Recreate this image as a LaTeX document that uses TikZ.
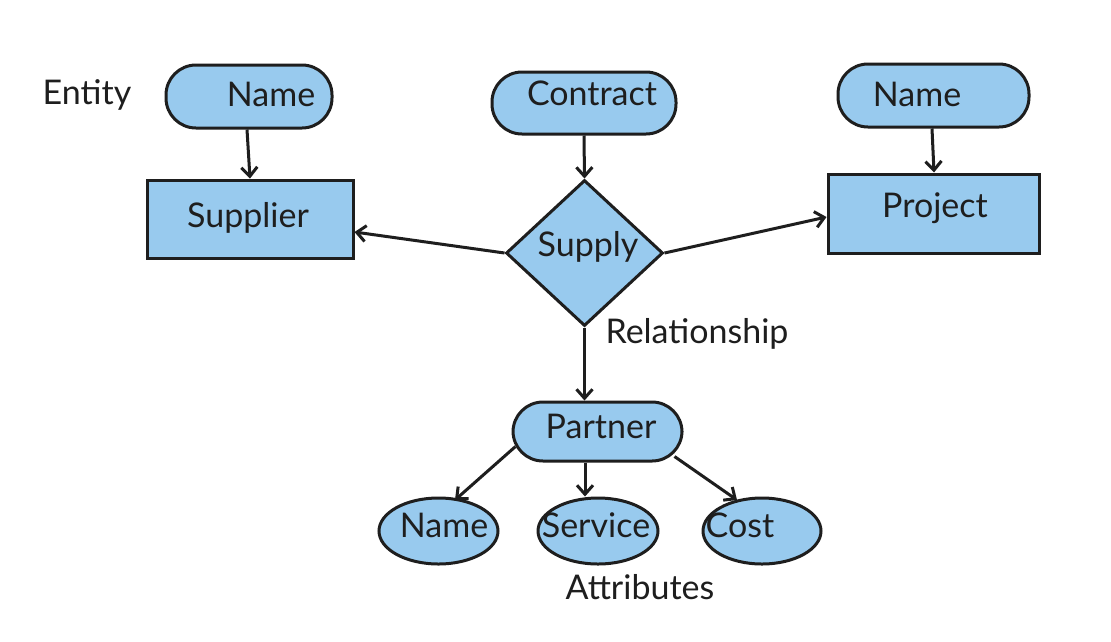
\documentclass[tikz,border=0pt]{standalone}
\usepackage{fontspec}
\setmainfont{Lato}
\usetikzlibrary{shapes.geometric,arrows.meta}
\definecolor{fillblue}{HTML}{98CAEE}
\definecolor{ink}{HTML}{1E1E1E}
\begin{document}
\begin{tikzpicture}[x=1pt,y=-1pt,
  shp/.style={draw=ink,fill=fillblue,line width=3pt,inner sep=0pt},
  pill/.style={shp,rectangle,rounded corners=30pt},
  ent/.style={shp,rectangle},
  rel/.style={shp,diamond},
  attr/.style={shp,ellipse},
  txt/.style={font=\fontsize{34}{38}\selectfont,text=ink,inner sep=0pt},
  conn/.style={draw=ink,line width=3pt,-{Straight Barb[length=9pt,width=16pt,line width=3pt]}}]
\useasboundingbox (0,0) rectangle (1111,641);
\fill[white] (0,0) rectangle (1111,641);
% shapes
\node[pill,minimum width=166pt,minimum height=63pt] (n1) at (249,96.5) {};
\node[ent,minimum width=206pt,minimum height=78pt] (sup) at (250,219) {};
\node[pill,minimum width=184pt,minimum height=62pt] (con) at (584,103) {};
\node[rel,minimum width=157pt,minimum height=146pt] (rel) at (584.5,253) {};
\node[pill,minimum width=191pt,minimum height=63pt] (n2) at (933.5,95.5) {};
\node[ent,minimum width=211pt,minimum height=79pt] (prj) at (933.5,213.5) {};
\node[pill,minimum width=169pt,minimum height=59pt] (par) at (597.5,431.5) {};
\node[attr,minimum width=119pt,minimum height=66pt] (n3) at (438.5,531) {};
\node[attr,minimum width=120pt,minimum height=66pt] (svc) at (598,531) {};
\node[attr,minimum width=118pt,minimum height=66pt] (cst) at (762,531) {};
% texts
\node[txt] (tn1) at (271,94) {Name};
\node[txt] (tsup) at (248,218) {Supplier};
\node[txt] (tcon) at (592,93) {Contract};
\node[txt] (trel) at (588,247) {Supply};
\node[txt] (tn2) at (917,94) {Name};
\node[txt] (tprj) at (935,208) {Project};
\node[txt] (tpar) at (601,426) {Partner};
\node[txt] (tn3) at (444,525) {Name};
\node[txt] (tsvc) at (596,525) {Service};
\node[txt] (tcst) at (740,525) {Cost};
\node[txt] (lent) at (87,95) {Entity};
\node[txt] (lrel) at (697,334) {Relationship};
\node[txt] (latt) at (640,587) {Attributes};
% connectors
\coordinate (pa) at ([shift={(4,-16)}]par.south west);
\coordinate (pb) at ([shift={(-9,-6)}]par.south east);
\draw[conn] (n1.south -| 247,0) -- (sup.north -| 250,0);
\draw[conn] (con.south) -- (rel.north);
\draw[conn] (rel.west) -- ([yshift=-13pt]sup.east);
\draw[conn] (rel.east) -- ([yshift=-3.5pt]prj.west);
\draw[conn] (rel.south) -- (rel.south |- par.north);
\draw[conn] (n2.south -| 932,0) -- (prj.north -| 934,0);
\draw[conn] (pa) -- ([shift={(16.5,-31)}]n3.center);
\draw[conn] (par.south -| 585,0) -- (svc.north -| 585,0);
\draw[conn] (pb) -- ([shift={(-25,-31)}]cst.center);
\end{tikzpicture}
\end{document}
